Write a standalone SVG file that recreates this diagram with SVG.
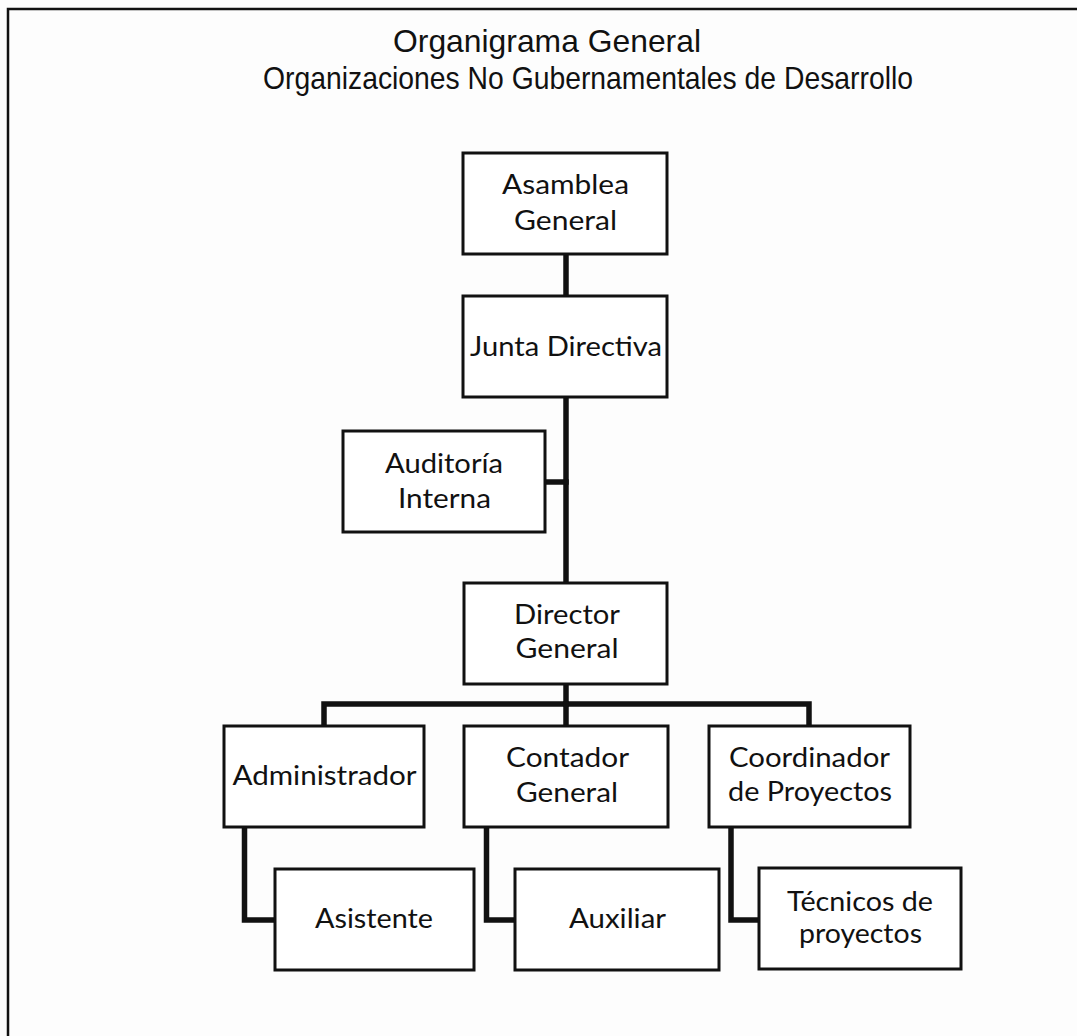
<svg xmlns="http://www.w3.org/2000/svg" width="1077" height="1036" viewBox="0 0 1077 1036">
<style>
.bg{fill:#fdfdfd}
.frame{stroke:#111;stroke-width:2.5;fill:none}
.box{fill:#fff;stroke:#111;stroke-width:3}
.lbl{font-family:"Lato","Open Sans","Noto Sans",sans-serif;font-size:27px;fill:#111}
.title{font-family:"Liberation Sans",Arial,sans-serif;font-size:32px;fill:#111}
.conn{stroke:#111;stroke-width:5.5;fill:none;stroke-linejoin:miter;stroke-linecap:square}
</style>
<rect class="bg" x="0" y="0" width="1077" height="1036"/>
<path class="frame" d="M8,1036 V9 H1077"/>
<g id="title">
<text class="title" x="393" y="52" textLength="308" lengthAdjust="spacingAndGlyphs">Organigrama General</text>
<text class="title" x="263" y="89" textLength="650" lengthAdjust="spacingAndGlyphs">Organizaciones No Gubernamentales de Desarrollo</text>
</g>
<g id="connectors">
<path class="conn" d="M566,256 V294"/>
<path class="conn" d="M566,399 V581"/>
<path class="conn" d="M547,482 H566"/>
<path class="conn" d="M566,686 V704"/>
<path class="conn" d="M324,724 V704 H809 V724"/>
<path class="conn" d="M566,704 V724"/>
<path class="conn" d="M244.5,829 V920 H273"/>
<path class="conn" d="M486.5,829 V920 H513"/>
<path class="conn" d="M731,829 V920 H757"/>
</g>
<g id="asamblea">
<rect class="box" x="463" y="153" width="204" height="101"/>
<text class="lbl" x="502" y="194" textLength="127" lengthAdjust="spacingAndGlyphs">Asamblea</text>
<text class="lbl" x="514" y="230" textLength="103" lengthAdjust="spacingAndGlyphs">General</text>
</g>
<g id="junta">
<rect class="box" x="463" y="296" width="204" height="101"/>
<text class="lbl" x="470" y="356" textLength="192" lengthAdjust="spacingAndGlyphs">Junta Directiva</text>
</g>
<g id="auditoria">
<rect class="box" x="343" y="431" width="202" height="101"/>
<text class="lbl" x="385" y="473" textLength="118" lengthAdjust="spacingAndGlyphs">Auditoría</text>
<text class="lbl" x="398" y="508" textLength="93" lengthAdjust="spacingAndGlyphs">Interna</text>
</g>
<g id="director">
<rect class="box" x="464" y="583" width="203" height="101"/>
<text class="lbl" x="514" y="624" textLength="106" lengthAdjust="spacingAndGlyphs">Director</text>
<text class="lbl" x="515.5" y="658" textLength="103" lengthAdjust="spacingAndGlyphs">General</text>
</g>
<g id="administrador">
<rect class="box" x="224" y="726" width="200" height="101"/>
<text class="lbl" x="232.5" y="785" textLength="184" lengthAdjust="spacingAndGlyphs">Administrador</text>
</g>
<g id="contador">
<rect class="box" x="464" y="726" width="204" height="101"/>
<text class="lbl" x="506" y="767" textLength="123" lengthAdjust="spacingAndGlyphs">Contador</text>
<text class="lbl" x="516" y="802" textLength="102" lengthAdjust="spacingAndGlyphs">General</text>
</g>
<g id="coordinador">
<rect class="box" x="709" y="726" width="201" height="101"/>
<text class="lbl" x="729" y="767" textLength="161" lengthAdjust="spacingAndGlyphs">Coordinador</text>
<text class="lbl" x="728" y="801" textLength="164" lengthAdjust="spacingAndGlyphs">de Proyectos</text>
</g>
<g id="asistente">
<rect class="box" x="275" y="869" width="199" height="101"/>
<text class="lbl" x="315" y="928" textLength="118" lengthAdjust="spacingAndGlyphs">Asistente</text>
</g>
<g id="auxiliar">
<rect class="box" x="515" y="869" width="204" height="101"/>
<text class="lbl" x="569" y="928" textLength="97" lengthAdjust="spacingAndGlyphs">Auxiliar</text>
</g>
<g id="tecnicos">
<rect class="box" x="759" y="868" width="202" height="101"/>
<text class="lbl" x="787" y="911" textLength="146" lengthAdjust="spacingAndGlyphs">Técnicos de</text>
<text class="lbl" x="799" y="943" textLength="123" lengthAdjust="spacingAndGlyphs">proyectos</text>
</g>
</svg>
